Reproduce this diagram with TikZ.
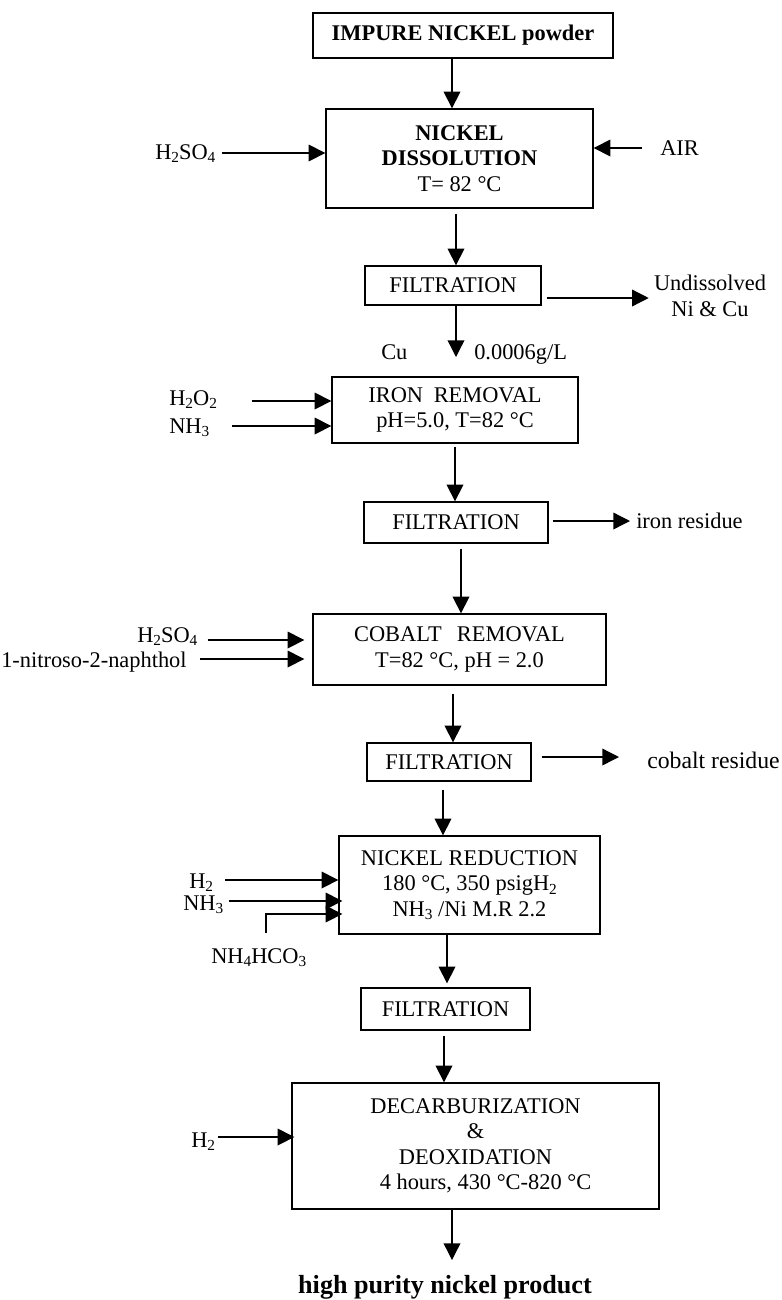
\documentclass[tikz,border=0pt]{standalone}
\usepackage{fontspec}
\setmainfont{Liberation Serif}
\usetikzlibrary{arrows.meta}
\newcommand{\sbb}[1]{\raisebox{-2.6pt}{\fontsize{11.5pt}{12pt}\selectfont #1}}
\begin{document}
\begin{tikzpicture}[x=0.75pt,y=-0.75pt,
  every node/.style={font=\fontsize{16.8pt}{19.1pt}\selectfont},
  box/.style={draw, line width=1pt, align=center, inner sep=0pt},
  lbl/.style={inner sep=0pt, anchor=base west},
  arr/.style={line width=1pt, -{Triangle[length=12.5pt,width=12.5pt]}},
  ln/.style={line width=1pt}]
\useasboundingbox (0,0) rectangle (782,1300);

% ---- process boxes ----
\node[box, minimum width=225pt, minimum height=33.75pt] (impure) at (463,35.5) {\bfseries IMPURE NICKEL powder};
\node[box, minimum width=200.25pt, minimum height=74.25pt] (diss) at (459.5,158.5) {{\bfseries NICKEL}\\{\bfseries DISSOLUTION}\\T= 82 °C};
\node[box, minimum width=132pt, minimum height=29.25pt] (filt1) at (453,285.5) {FILTRATION};
\node[box, minimum width=184.5pt, minimum height=49.5pt] (iron) at (455,410) {IRON\hspace{8pt}REMOVAL\\pH=5.0, T=82 °C};
\node[box, minimum width=138pt, minimum height=30.75pt] (filt2) at (456,522.5) {FILTRATION};
\node[box, minimum width=219.75pt, minimum height=53.25pt] (cobalt) at (459.5,649.5) {COBALT\hspace{11.5pt}REMOVAL\\T=82 °C, pH = 2.0};
\node[box, minimum width=123pt, minimum height=28.5pt] (filt3) at (449,762) {FILTRATION};
\node[box, minimum width=195.75pt, minimum height=73.5pt] (red) at (469.5,885) {NICKEL REDUCTION\\180 °C, 350 psigH\sbb{2}\\NH\sbb{3} /Ni M.R 2.2};
\node[box, minimum width=126.75pt, minimum height=31.5pt] (filt4) at (445.5,1009) {FILTRATION};
\node[box, minimum width=275.25pt, minimum height=94.5pt] (dec) at (475.5,1146) {DECARBURIZATION\\\&\\DEOXIDATION\\\hspace*{15pt}4 hours, 430 °C-820 °C};

% ---- labels ----
\node[lbl] (h2so4a) at (155,159) {H\sbb{2}SO\sbb{4}};
\node[lbl] (air) at (660,155) {AIR};
\node[align=center, inner sep=0pt] (undis) at (710,296) {Undissolved\\Ni \& Cu};
\node[lbl] (cu) at (381,359) {Cu};
\node[lbl] (conc) at (474,359) {0.0006g/L};
\node[lbl] (h2o2) at (169,405) {H\sbb{2}O\sbb{2}};
\node[lbl] (nh3a) at (169,433) {NH\sbb{3}};
\node[lbl] (ironres) at (636,528) {iron residue};
\node[lbl] (h2so4b) at (137,642) {H\sbb{2}SO\sbb{4}};
\node[lbl] (nitro) at (1,667) {1-nitroso-2-naphthol};
\node[lbl, font=\fontsize{17.8pt}{20pt}\selectfont] (cobres) at (647,768) {cobalt residue};
\node[lbl] (h2a) at (189,888) {H\sbb{2}};
\node[lbl] (nh3b) at (183,910) {NH\sbb{3}};
\node[lbl] (nh4) at (211,963) {NH\sbb{4}HCO\sbb{3}};
\node[lbl] (h2b) at (191,1147) {H\sbb{2}};
\node[inner sep=0pt, anchor=base, font=\fontsize{19.6pt}{23pt}\selectfont\bfseries] (prod) at (445,1293) {high purity nickel product};

% ---- free ends ----
\coordinate (cutip) at (456,357);
\coordinate (airs) at (642,148);
\coordinate (nh4s) at (266,933);
\coordinate (endtip) at (452,1260);

% ---- main flow ----
\draw[arr] (impure.south -| 452,0) -- (diss.north -| 452,0);
\draw[arr, shorten <=3.75pt] (diss.south -| 456,0) -- (filt1.north -| 456,0);
\draw[arr] (filt1.south -| cutip) -- (cutip);
\draw[arr, shorten <=2.25pt] (iron.south -| 455,0) -- (filt2.north -| 455,0);
\draw[arr, shorten <=3.75pt] (filt2.south -| 461,0) -- (cobalt.north -| 461,0);
\draw[arr, shorten <=6pt] (cobalt.south -| 453,0) -- (filt3.north -| 453,0);
\draw[arr, shorten <=6pt] (filt3.south -| 443,0) -- (red.north -| 443,0);
\draw[arr, shorten >=3pt] (red.south -| 447,0) -- (filt4.north -| 447,0);
\draw[arr, shorten <=3.75pt] (filt4.south -| 444,0) -- (dec.north -| 444,0);
\draw[arr] (dec.south -| endtip) -- (endtip);

% ---- inputs ----
\draw[arr, shorten <=4.5pt] (h2so4a.east |- 0,153) -- (diss.west |- 0,153);
\draw[arr] (airs) -- (airs -| diss.east);
\draw[arr, shorten <=26pt] (h2o2.east |- 0,401) -- (iron.west |- 0,401);
\draw[arr, shorten <=17pt] (nh3a.east |- 0,426) -- (iron.west |- 0,426);
\draw[arr, shorten <=7.5pt, shorten >=6pt] (h2so4b.east |- 0,640) -- (cobalt.west |- 0,640);
\draw[arr, shorten <=10pt, shorten >=6pt] (nitro.east |- 0,659) -- (cobalt.west |- 0,659);
\draw[arr, shorten <=9pt] (h2a.east |- 0,880) -- (red.west |- 0,880);
\draw[arr, shorten <=3.75pt, shorten >=-3pt] (nh3b.east |- 0,901) -- (red.west |- 0,901);
\draw[arr, shorten >=-3pt] (nh4s) |- (red.west |- 0,914);
\draw[arr, shorten <=2.25pt, shorten >=-2.25pt] (h2b.east |- 0,1137) -- (dec.west |- 0,1137);

% ---- outputs ----
\draw[arr, shorten <=3.75pt, shorten >=3.75pt] (filt1.east |- 0,298) -- (undis.west |- 0,298);
\draw[arr, shorten <=3pt, shorten >=4.5pt] (filt2.east |- 0,521) -- (ironres.west |- 0,521);
\draw[arr, shorten <=7.5pt, shorten >=21pt] (filt3.east |- 0,757) -- (cobres.west |- 0,757);
\end{tikzpicture}
\end{document}
